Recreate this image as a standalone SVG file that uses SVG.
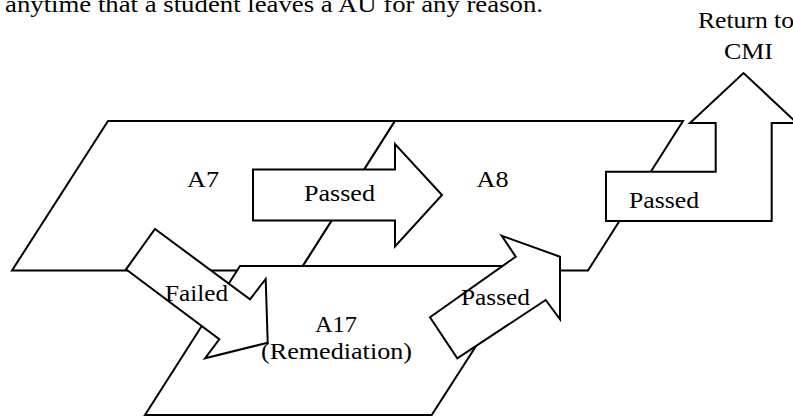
<svg xmlns="http://www.w3.org/2000/svg" width="793" height="418" viewBox="0 0 793 418">
  <style>
    .shape { fill: #ffffff; stroke: #000000; stroke-width: 2; stroke-linejoin: miter; }
    .lbl { font-family: "Liberation Serif", "Times New Roman", serif; font-size: 24px; fill: #000000; }
  </style>
  <rect x="0" y="0" width="793" height="418" fill="#ffffff"/>

  <!-- running text line at the top -->
  <text class="lbl" x="5" y="11.5" textLength="538" lengthAdjust="spacingAndGlyphs">anytime that a student leaves a AU for any reason.</text>

  <!-- assignable units -->
  <g id="node-a7">
    <polygon class="shape" points="108,121 395,121 300,270.5 12,270.5"/>
    <text class="lbl" x="187" y="187" textLength="32" lengthAdjust="spacingAndGlyphs">A7</text>
  </g>
  <g id="node-a8">
    <polygon class="shape" points="395,121 683,121 588,270.5 300,270.5"/>
    <text class="lbl" x="476.5" y="187" textLength="32" lengthAdjust="spacingAndGlyphs">A8</text>
  </g>
  <g id="node-a17">
    <polygon class="shape" points="240,266 527.5,266 431.7,415 145,415"/>
    <text class="lbl" x="315" y="331.5" textLength="42" lengthAdjust="spacingAndGlyphs">A17</text>
    <text class="lbl" x="261" y="359" textLength="151" lengthAdjust="spacingAndGlyphs">(Remediation)</text>
  </g>
  <g id="node-cmi">
    <text class="lbl" x="698" y="28.3" textLength="96" lengthAdjust="spacingAndGlyphs">Return to</text>
    <text class="lbl" x="724" y="59" textLength="49" lengthAdjust="spacingAndGlyphs">CMI</text>
  </g>

  <!-- block arrows between units -->
  <g id="connectors">
    <g id="edge-a7-a8">
      <polygon class="shape" points="253,169.5 395,169.5 395,144 442,195 395,246.5 395,220.5 253,220.5"/>
      <text class="lbl" x="304" y="201" textLength="71" lengthAdjust="spacingAndGlyphs">Passed</text>
    </g>
    <g id="edge-a7-a17">
      <polygon class="shape" points="155,229 250,299.3 265.7,279 267.7,342.7 205,358.3 219.3,339.3 126,269.3"/>
      <text class="lbl" x="165" y="301" textLength="63" lengthAdjust="spacingAndGlyphs">Failed</text>
    </g>
    <g id="edge-a17-a8">
      <polygon class="shape" points="430,317.3 515.7,256.7 501.7,235.7 560,256.7 560,319.3 545.7,300 457.3,358.3"/>
      <text class="lbl" x="461" y="305" textLength="69" lengthAdjust="spacingAndGlyphs">Passed</text>
    </g>
    <g id="edge-a8-cmi">
      <polygon class="shape" points="606,171.7 715.7,171.7 715.7,123 690,123 743.5,73 797,123 771.7,123 771.7,221 606,221"/>
      <text class="lbl" x="629" y="208" textLength="70" lengthAdjust="spacingAndGlyphs">Passed</text>
    </g>
  </g>
</svg>
